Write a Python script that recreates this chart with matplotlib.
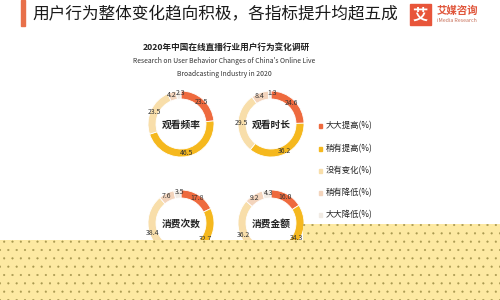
import matplotlib
matplotlib.use("Agg")
import matplotlib.pyplot as plt
from matplotlib.patches import Polygon, Rectangle

plt.rcParams['font.family'] = ['Noto Sans CJK SC', 'DejaVu Sans']
plt.rcParams['hatch.linewidth'] = 0.3

# data
categories = ['大大提高(%)', '稍有提高(%)', '没有变化(%)', '稍有降低(%)', '大大降低(%)']
colors = ['#ee6a3e', '#f5b81e', '#f8deaa', '#f3d4bc', '#f1ebe4']
indicators = ['观看频率', '观看时长', '消费次数', '消费金额']
freq = [23.5, 46.5, 23.5, 4.2, 2.3]
duration = [24.6, 36.2, 29.5, 8.4, 1.3]
times = [17.8, 32.7, 38.4, 7.6, 3.5]
amount = [16.0, 34.3, 36.2, 9.2, 4.3]
series = [freq, duration, times, amount]

fig = plt.figure(figsize=(5, 3), dpi=100)
ax = fig.add_axes([0, 0, 1, 1])

# donut centres in pixel space (y measured from bottom)
centres = [(181, 300 - 124), (271, 300 - 124), (181, 300 - 223), (271, 300 - 223)]
R = 33

for vals, name, c in zip(series, indicators, centres):
    wedges, texts = ax.pie(vals, colors=colors, startangle=90, counterclock=False,
                           center=c, radius=R, labels=[f"{v}" for v in vals],
                           labeldistance=0.9,
                           wedgeprops=dict(width=8, linewidth=0.6, edgecolor='white'),
                           textprops=dict(fontsize=5, color='#333333'))
    for t in texts:
        t.set_ha('center')
        t.set_va('center')
    # small top slices sit close together, push them apart a little
    x, y = texts[-1].get_position()
    texts[-1].set_position((x + 2, y + 1))
    x, y = texts[-2].get_position()
    texts[-2].set_position((x - 1, y))
    ax.text(c[0], c[1] - 1, name, ha='center', va='center', fontsize=7,
            fontweight='bold', color='#222222')

# header
ax.add_patch(Rectangle((21, 300 - 26), 3.5, 26, color='#e8704a'))
ax.text(32, 300 - 15, '用户行为整体变化趋向积极，各指标提升均超五成', fontsize=12,
        ha='left', va='center', color='#1a1a1a')

# logo
ax.add_patch(Rectangle((410, 300 - 25), 21, 21, color='#e8553a'))
ax.text(420.5, 300 - 14.5, '艾', fontsize=11, fontweight='bold', color='white',
        ha='center', va='center')
ax.text(437, 300 - 10.5, '艾媒咨询', fontsize=7.5, color='#e0553a', ha='left',
        va='center', fontweight='bold')
ax.text(437, 300 - 20.5, 'iMedia Research', fontsize=3.8, color='#c8705a',
        ha='left', va='center')

# chart title
ax.text(226, 300 - 48, '2020年中国在线直播行业用户行为变化调研', fontsize=6.2,
        fontweight='bold', ha='center', va='center', color='#222222')
ax.text(224, 300 - 61, "Research on User Behavior Changes of China's Online Live",
        fontsize=4.9, ha='center', va='center', color='#333333')
ax.text(224, 300 - 74, 'Broadcasting Industry in 2020', fontsize=4.9,
        ha='center', va='center', color='#333333')

# legend
leg_y = [126, 149, 171, 193, 215]
for lab, col, y in zip(categories, colors, leg_y):
    ax.add_patch(Rectangle((318.5, 300 - y - 1.8), 3.6, 3.6, color=col))
    ax.text(326, 300 - y, lab, fontsize=6, ha='left', va='center', color='#222222')

# dotted yellow overlay at the bottom
overlay = Polygon([(0, 0), (0, 60), (303, 60), (303, 76), (500, 76), (500, 0)],
                  closed=True, facecolor='#fde9a2', edgecolor='#a89850',
                  linewidth=0, hatch='..', zorder=10)
ax.add_patch(overlay)

ax.set_xlim(0, 500)
ax.set_ylim(0, 300)
ax.set_aspect('auto')
ax.axis('off')

fig.savefig('out.png', dpi=100, facecolor='white')
